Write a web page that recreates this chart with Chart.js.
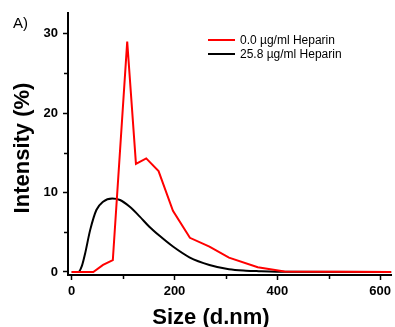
<!DOCTYPE html>
<html>
<head>
<meta charset="utf-8">
<script src="https://cdn.jsdelivr.net/npm/chart.js@4"></script>
<style>
  body { margin: 0; background: #fff; }
  #wrap { position: relative; width: 395px; height: 327px; font-family: 'Liberation Sans', Arial, sans-serif; }
  #wrap div { position: absolute; white-space: nowrap; }
  .title { font-weight: bold; font-size: 22px; line-height: 22px; transform: translate(-50%, -50%); }
  .leg { font-size: 12px; line-height: 14px; }
</style>
</head>
<body>
<div id="wrap">
  <canvas id="dlsChart" width="395" height="327"></canvas>
  <div style="left:13px; top:14px; font-size:15px; line-height:17px;">A)</div>
  <div style="left:208px; top:39px; width:27px; height:2px; background:#ff0000;"></div>
  <div class="leg" style="left:240px; top:33px;">0.0 µg/ml Heparin</div>
  <div style="left:208px; top:53px; width:27px; height:2px; background:#000;"></div>
  <div class="leg" style="left:240px; top:47px;">25.8 µg/ml Heparin</div>
  <div class="title" style="left:22px; top:148px; transform: translate(-50%, -50%) rotate(-90deg);">Intensity (%)</div>
  <div class="title" style="left:211px; top:317px;">Size (d.nm)</div>
</div>
<script>
// size (d.nm) vs intensity (%)
let sizeRed = [0, 42, 61, 80, 108, 125, 145, 169, 197, 230, 268, 306, 362, 414, 622];
let intRed = [0, 0, 0.9, 1.5, 29.0, 13.6, 14.3, 12.7, 7.7, 4.3, 3.2, 1.8, 0.6, 0.05, 0];
let sizeBlack = [0, 13, 20, 26, 36, 48, 61, 79, 94, 113, 132, 151, 171, 197, 229, 268, 306, 339, 364, 420, 622];
let intBlack = [0, 0, 0.8, 2.3, 5.3, 7.8, 8.85, 9.25, 9.06, 8.2, 7.0, 5.7, 4.55, 3.2, 1.85, 0.88, 0.34, 0.16, 0.1, 0.02, 0];
let xTicks = [0, 200, 400, 600];
let xMinor = [100, 300, 500];
let yTicks = [0, 10, 20, 30];
let yMinor = [5, 15, 25];

function toPoints(xs, ys) {
	return xs.map(function (x, i) { return { x: x, y: ys[i] }; });
}

// short outward minor ticks
var minorTicks = {
	id: 'minorTicks',
	afterDraw: function (chart) {
		var c = chart.ctx, xs = chart.scales.x, ys = chart.scales.y;
		c.save();
		c.strokeStyle = '#000';
		c.lineWidth = 1.5;
		c.beginPath();
		xMinor.forEach(function (v) {
			var px = Math.round(xs.getPixelForValue(v)) + 0.5;
			c.moveTo(px, xs.top);
			c.lineTo(px, xs.top + 4);
		});
		yMinor.forEach(function (v) {
			var py = Math.round(ys.getPixelForValue(v)) + 0.5;
			c.moveTo(ys.right, py);
			c.lineTo(ys.right - 4, py);
		});
		c.stroke();
		c.restore();
	}
};

var tickFont = { family: "'Liberation Sans', Arial, sans-serif", size: 13, weight: 'bold' };

var ctx = document.getElementById('dlsChart').getContext('2d');
var dlsChart = new Chart(ctx, {
	type: 'line',
	data: {
		datasets: [{
			label: '0.0 µg/ml Heparin',
			data: toPoints(sizeRed, intRed),
			borderColor: '#ff0000',
			borderWidth: 2,
			pointRadius: 0,
			tension: 0
		}, {
			label: '25.8 µg/ml Heparin',
			data: toPoints(sizeBlack, intBlack),
			borderColor: '#000000',
			borderWidth: 2,
			pointRadius: 0,
			cubicInterpolationMode: 'monotone'
		}]
	},
	options: {
		responsive: false,
		animation: false,
		layout: { padding: { top: 13, right: 2, left: 0, bottom: 0 } },
		plugins: { legend: { display: false }, tooltip: { enabled: false } },
		scales: {
			x: {
				type: 'linear',
				min: -7.2,
				max: 622,
				afterFit: function (s) { s.height = 52; },
				afterBuildTicks: function (s) { s.ticks = xTicks.map(function (v) { return { value: v }; }); },
				grid: { drawOnChartArea: false, tickLength: 5, tickWidth: 1.5, tickColor: '#000' },
				border: { color: '#000', width: 2 },
				ticks: { color: '#000', font: tickFont, padding: 4, maxRotation: 0 }
			},
			y: {
				min: -0.38,
				max: 32.6,
				afterFit: function (s) { s.width = 68; },
				afterBuildTicks: function (s) { s.ticks = yTicks.map(function (v) { return { value: v }; }); },
				grid: { drawOnChartArea: false, tickLength: 5, tickWidth: 1.5, tickColor: '#000' },
				border: { color: '#000', width: 2 },
				ticks: { color: '#000', font: tickFont, padding: 5 }
			}
		}
	},
	plugins: [minorTicks]
});
</script>
</body>
</html>
